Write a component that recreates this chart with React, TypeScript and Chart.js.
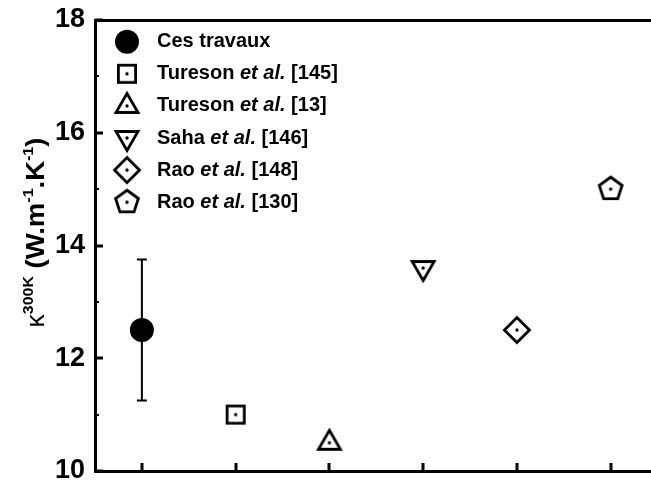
import { useEffect, useRef } from "react";
import { Chart, registerables } from "chart.js";

Chart.register(...registerables);

// ---- data ----
const seriesNames = ["Ces travaux", "Tureson", "Tureson", "Saha", "Rao", "Rao"];
const seriesEtAl = ["", "et al.", "et al.", "et al.", "et al.", "et al."];
const seriesRefs = ["", "[145]", "[13]", "[146]", "[148]", "[130]"];
const xPositions = [1, 2, 3, 4, 5, 6];
const kappaValues = [12.5, 11.0, 10.5, 13.6, 12.5, 15.0];
const kappaErrors = [1.25, 0, 0, 0, 0, 0];
const markerKinds = ["filledCircle", "square", "triangle", "invTriangle", "diamond", "pentagon"];
const yMajorTicks = [10, 12, 14, 16, 18];
const yMinorTicks = [11, 13, 15, 17];
const yTickLabels = ["10", "12", "14", "16", "18"];
const yTitleParts = [
  { text: "κ", kind: "greek" },
  { text: "300K", kind: "sup" },
  { text: " (W.m", kind: "main" },
  { text: "-1", kind: "sup" },
  { text: ".K", kind: "main" },
  { text: "-1", kind: "sup" },
  { text: ")", kind: "main" },
];

const FONT = '"Liberation Sans", Arial, Helvetica, sans-serif';

function makeMarker(kind: string): HTMLCanvasElement {
  const c = document.createElement("canvas");
  c.width = 40;
  c.height = 40;
  const ctx = c.getContext("2d")!;
  ctx.translate(20, 20);
  ctx.lineWidth = 2.8;
  ctx.strokeStyle = "#000";
  ctx.fillStyle = "#000";
  ctx.lineJoin = "miter";
  ctx.beginPath();
  if (kind === "square") {
    ctx.rect(-8.6, -8.6, 17.2, 17.2);
  } else if (kind === "triangle") {
    ctx.moveTo(0, -12.5);
    ctx.lineTo(11, 6.5);
    ctx.lineTo(-11, 6.5);
    ctx.closePath();
  } else if (kind === "invTriangle") {
    ctx.moveTo(0, 12.5);
    ctx.lineTo(11, -6.5);
    ctx.lineTo(-11, -6.5);
    ctx.closePath();
  } else if (kind === "diamond") {
    ctx.moveTo(0, -12.5);
    ctx.lineTo(12.5, 0);
    ctx.lineTo(0, 12.5);
    ctx.lineTo(-12.5, 0);
    ctx.closePath();
  } else if (kind === "pentagon") {
    for (let k = 0; k < 5; k++) {
      const a = -Math.PI / 2 + (k * 2 * Math.PI) / 5;
      const px = 12 * Math.cos(a);
      const py = 12 * Math.sin(a);
      if (k === 0) ctx.moveTo(px, py);
      else ctx.lineTo(px, py);
    }
    ctx.closePath();
  }
  ctx.stroke();
  ctx.beginPath();
  ctx.arc(0, 0, 1.7, 0, Math.PI * 2);
  ctx.fill();
  return c;
}

export default function App() {
  const canvasRef = useRef<HTMLCanvasElement | null>(null);

  useEffect(() => {
    const canvas = canvasRef.current;
    if (!canvas) return;
    const markers = markerKinds.map((k) => (k === "filledCircle" ? null : makeMarker(k)));

    const drawMarker = (ctx: CanvasRenderingContext2D, i: number, x: number, y: number) => {
      const m = markers[i];
      if (!m) {
        ctx.beginPath();
        ctx.fillStyle = "#000";
        ctx.arc(x, y, 12, 0, Math.PI * 2);
        ctx.fill();
      } else {
        ctx.drawImage(m, x - m.width / 2, y - m.height / 2);
      }
    };

    const decorPlugin = {
      id: "decor",
      beforeDatasetsDraw(chart: any) {
        const ctx = chart.ctx as CanvasRenderingContext2D;
        const xs = chart.scales.x;
        const ys = chart.scales.y;
        ctx.save();
        ctx.strokeStyle = "#000";
        ctx.lineWidth = 2;
        kappaErrors.forEach((e, i) => {
          if (!e) return;
          const px = xs.getPixelForValue(xPositions[i]);
          const top = ys.getPixelForValue(kappaValues[i] + e);
          const bot = ys.getPixelForValue(kappaValues[i] - e);
          ctx.beginPath();
          ctx.moveTo(px, top);
          ctx.lineTo(px, bot);
          ctx.moveTo(px - 5, top);
          ctx.lineTo(px + 5, top);
          ctx.moveTo(px - 5, bot);
          ctx.lineTo(px + 5, bot);
          ctx.stroke();
        });
        ctx.restore();
      },
      afterDraw(chart: any) {
        const ctx = chart.ctx as CanvasRenderingContext2D;
        const xs = chart.scales.x;
        const ys = chart.scales.y;
        const area = chart.chartArea;
        ctx.save();
        // inward ticks
        ctx.fillStyle = "#000";
        xPositions.forEach((v) => {
          const px = Math.round(xs.getPixelForValue(v));
          ctx.fillRect(px - 1.5, area.bottom - 8, 3, 8);
        });
        yMajorTicks.forEach((v) => {
          const py = Math.round(ys.getPixelForValue(v));
          ctx.fillRect(area.left, py - 1.5, 8, 3);
        });
        yMinorTicks.forEach((v) => {
          const py = Math.round(ys.getPixelForValue(v));
          ctx.fillRect(area.left, py - 1, 4, 2);
        });

        // legend
        const lx = 127;
        const tx = 157;
        const y0 = 41.7;
        const dy = 32.1;
        ctx.textBaseline = "middle";
        ctx.textAlign = "left";
        seriesNames.forEach((name, i) => {
          const y = y0 + i * dy;
          drawMarker(ctx, i, lx, y);
          ctx.fillStyle = "#000";
          let x = tx;
          ctx.font = `bold 20px ${FONT}`;
          ctx.fillText(name, x, y);
          x += ctx.measureText(name).width;
          if (seriesEtAl[i]) {
            x += ctx.measureText(" ").width;
            ctx.font = `italic bold 20px ${FONT}`;
            ctx.fillText(seriesEtAl[i], x, y);
            x += ctx.measureText(seriesEtAl[i]).width;
          }
          if (seriesRefs[i]) {
            ctx.font = `bold 20px ${FONT}`;
            x += ctx.measureText(" ").width;
            ctx.fillText(seriesRefs[i], x, y);
          }
        });

        // y axis title (rotated, with superscripts)
        const fontFor = (kind: string) =>
          kind === "greek"
            ? `25px ${FONT}`
            : kind === "sup"
            ? `bold 15px ${FONT}`
            : `bold 26px ${FONT}`;
        let total = 0;
        const widths = yTitleParts.map((p) => {
          ctx.font = fontFor(p.kind);
          const w = ctx.measureText(p.text).width;
          total += w;
          return w;
        });
        const cy = (area.top + area.bottom) / 2 - 13;
        ctx.translate(44, cy);
        ctx.rotate(-Math.PI / 2);
        ctx.scale(1.06, 1);
        ctx.textBaseline = "alphabetic";
        let cx = -total / 2;
        yTitleParts.forEach((p, i) => {
          ctx.font = fontFor(p.kind);
          ctx.fillText(p.text, cx, p.kind === "sup" ? -11 : 0);
          cx += widths[i];
        });
        ctx.restore();
      },
    };

    const chart = new Chart(canvas, {
      type: "scatter",
      data: {
        datasets: seriesNames.map((name, i) => ({
          label: `${name} ${seriesEtAl[i]} ${seriesRefs[i]}`.trim(),
          data: [{ x: xPositions[i], y: kappaValues[i] }],
          pointStyle: (markers[i] ?? "circle") as any,
          pointRadius: markers[i] ? 10 : 12,
          pointHoverRadius: markers[i] ? 10 : 12,
          backgroundColor: "#000",
          borderColor: "#000",
          borderWidth: 0,
          clip: false as any,
        })),
      },
      options: {
        animation: false,
        responsive: false,
        maintainAspectRatio: false,
        layout: { padding: 0, autoPadding: false },
        plugins: {
          legend: { display: false },
          tooltip: { enabled: false },
        },
        scales: {
          x: {
            type: "linear",
            position: "bottom",
            min: 0.5,
            max: 6.43,
            grid: { display: false, drawTicks: false },
            border: { display: true, color: "#000", width: 3 },
            ticks: { display: false },
            afterFit: (s: any) => {
              s.height = 15;
              s.paddingLeft = 0;
              s.paddingRight = 0;
            },
          },
          x2: {
            type: "linear",
            position: "top",
            min: 0.5,
            max: 6.43,
            grid: { display: false, drawTicks: false },
            border: { display: true, color: "#000", width: 3 },
            ticks: { display: false },
            afterFit: (s: any) => {
              s.height = 20;
              s.paddingLeft = 0;
              s.paddingRight = 0;
            },
          },
          y: {
            type: "linear",
            min: 10,
            max: 18,
            grid: { display: false, drawTicks: false },
            border: { display: true, color: "#000", width: 3 },
            ticks: {
              stepSize: 2,
              padding: 10,
              color: "#000",
              font: { family: FONT, size: 27, weight: "bold", lineHeight: 1 },
              callback: (v: any) => {
                const idx = yMajorTicks.indexOf(Number(v));
                return idx >= 0 ? yTickLabels[idx] : "";
              },
            },
            afterFit: (s: any) => {
              s.width = 95;
              s.paddingTop = 0;
              s.paddingBottom = 0;
            },
          },
        },
      },
      plugins: [decorPlugin],
    });
    return () => chart.destroy();
  }, []);

  return (
    <div style={{ position: "fixed", left: 0, top: 0, width: 651, height: 486, background: "#fff" }}>
      <canvas ref={canvasRef} width={651} height={486} style={{ width: 651, height: 486, display: "block" }} />
    </div>
  );
}
